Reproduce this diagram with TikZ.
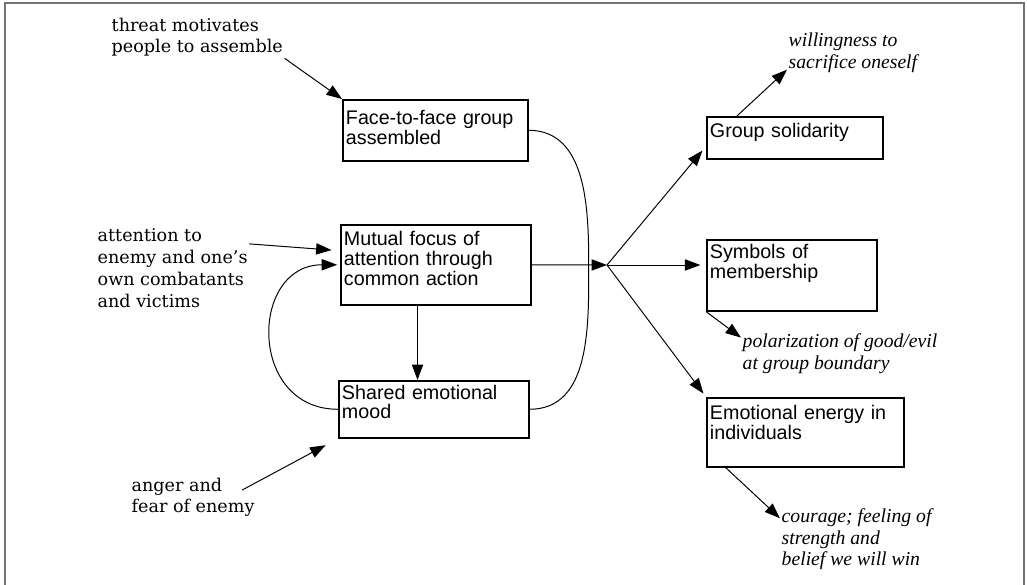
\documentclass[tikz,border=0pt]{standalone}
\usepackage{fontspec}
\newfontfamily\boxfont{Liberation Sans}
\newfontfamily\notefont{DejaVu Serif}
\newfontfamily\resultfont{Liberation Serif}
\usetikzlibrary{arrows.meta,positioning}

\begin{document}
\begin{tikzpicture}
            [
                x=0.025cm, y=0.025cm,
                stagebox/.style={rectangle, draw=black, line width=1.1pt, anchor=north west, align=left, inner xsep=0pt, inner ysep=0pt, text height=15pt, font=\boxfont\fontsize{14}{14}\selectfont},
                causenote/.style={anchor=north west, align=left, inner sep=1pt, font=\notefont\fontsize{12.5}{15.6}\selectfont},
                effectnote/.style={anchor=north west, align=left, inner sep=1pt, font=\resultfont\itshape\fontsize{14}{15.4}\selectfont},
                link/.style={line width=0.7pt, -{Triangle[length=11pt,width=8pt]}},
                frameline/.style={line width=1.5pt, draw=black!55},
            ]

            \useasboundingbox (0,0) rectangle (1027,-585);
            \draw[frameline] (5,-590) |- (1024,-3) -- (1024,-590);

            %% STAGES OF THE RITUAL
            \node[stagebox, minimum width=4.625cm, minimum height=1.525cm, text width=4.465cm, text height=17.5pt, text depth=25.9pt] (face) at (342,-99) {Face-to-face group\\assembled};
            \node[stagebox, minimum width=4.75cm, minimum height=2cm, text width=4.59cm, text depth=41.9pt] (focus) at (340,-224) {Mutual focus of\\attention through\\common action};
            \node[stagebox, minimum width=4.75cm, minimum height=1.425cm, text width=4.59cm, text height=13pt, text depth=27.5pt] (mood) at (338,-380) {Shared emotional\\mood};

            %% OUTCOMES
            \node[stagebox, minimum width=4.4cm, minimum height=1.05cm, text width=4.24cm, text depth=14.9pt] (solidarity) at (706,-116) {Group solidarity};
            \node[stagebox, minimum width=4.25cm, minimum height=1.775cm, text width=4.09cm, text height=13.5pt, text depth=37pt] (symbols) at (706,-239) {Symbols of\\membership};
            \node[stagebox, minimum width=4.925cm, minimum height=1.725cm, text width=4.765cm, text height=15.6pt, text depth=33.5pt] (energy) at (706,-397) {Emotional energy in\\individuals};

            %% NOTES
            \node[causenote] (threat) at (110,-16) {threat motivates\\people to assemble};
            \node[causenote] (attention) at (96,-227) {attention to\\enemy and one’s\\own combatants\\and victims};
            \node[causenote] (anger) at (130,-476) {anger and\\fear of enemy};
            \node[effectnote] (willing) at (787,-31) {willingness to\\sacrifice oneself};
            \node[effectnote] (polar) at (741,-332) {polarization of good/evil\\at group boundary};
            \node[effectnote] (courage) at (780,-507) {courage; feeling of\\strength and\\belief we will win};

            \coordinate (hub) at (607,-265);

            %% ARROWS
            \draw[link] (threat.south east) -- (face.north west);
            \draw[link, shorten >=6pt] ([yshift=-12pt]attention.north east) -- ([yshift=10pt]focus.west);
            \draw[link, shorten >=10pt] ([xshift=-10pt, yshift=-10pt]anger.north east) -- (mood.south west);
            \draw[link, shorten >=2pt] (mood.west) to[out=180, in=180, looseness=1.6] (focus.west);
            \draw[link] ([xshift=-13pt]focus.south) -- ([xshift=-13pt]focus.south |- mood.north);
            \draw[line width=0.7pt] (face.east) to[out=0, in=90] ([xshift=-13pt]hub) to[out=-90, in=0] (mood.east);
            \draw[link] (focus.east) -- (hub);

            \draw[link, shorten >=4pt] (hub) -- ([yshift=-6pt]solidarity.west);
            \draw[link, shorten >=4pt] (hub) -- (hub -| symbols.west);
            \draw[link, shorten >=3pt] (hub) -- (energy.north west);
            \draw[link] ([xshift=22pt]solidarity.north west) -- ([yshift=3pt]willing.south west);
            \draw[link] (symbols.south west) -- ([yshift=-4pt]polar.north west);
            \draw[link] ([xshift=14pt]energy.south west) -- ([yshift=-8pt]courage.north west);

        \end{tikzpicture}
\end{document}
